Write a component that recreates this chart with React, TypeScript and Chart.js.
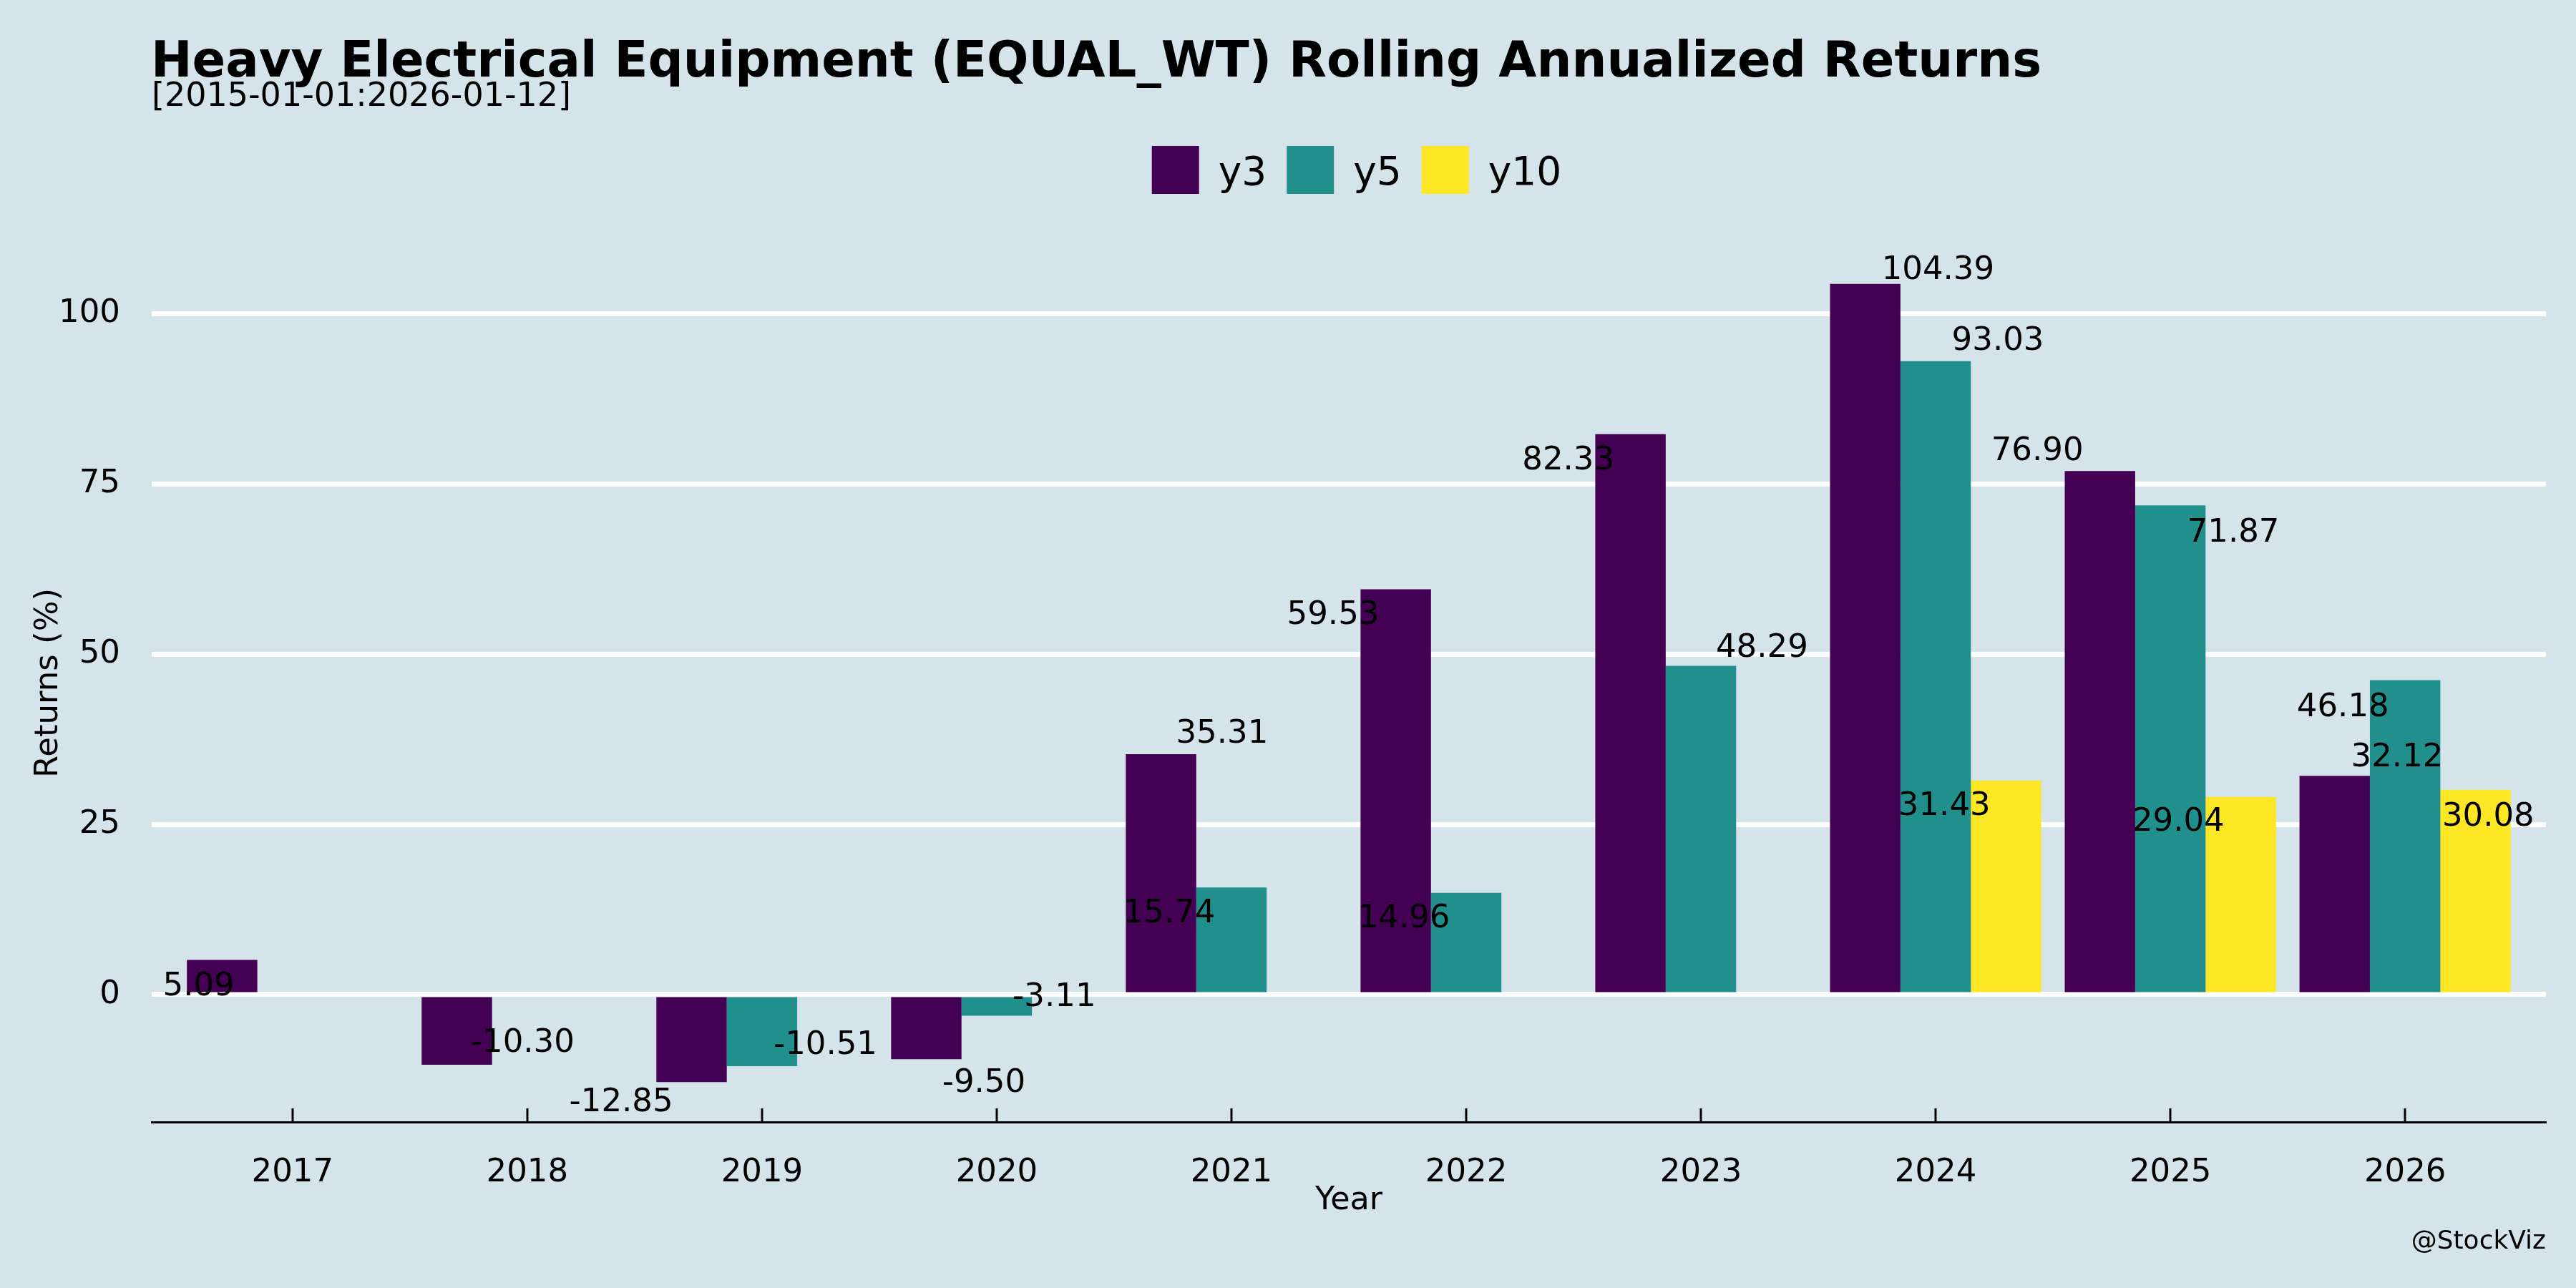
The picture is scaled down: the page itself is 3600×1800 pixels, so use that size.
import React, { useEffect, useRef } from 'react';
import { Chart, registerables } from 'chart.js';

Chart.register(...registerables);

// ---- data ----
const years = ['2017', '2018', '2019', '2020', '2021', '2022', '2023', '2024', '2025', '2026'];
const seriesNames = ['y3', 'y5', 'y10'];
const y3 = [5.09, -10.3, -12.85, -9.5, 35.31, 59.53, 82.33, 104.39, 76.9, 32.12];
const y5 = [null, null, -10.51, -3.11, 15.74, 14.96, 48.29, 93.03, 71.87, 46.18];
const y10 = [null, null, null, null, null, null, null, 31.43, 29.04, 30.08];
const yTicks = [0, 25, 50, 75, 100];

// label placement (text-repel style offsets): x in category units, y in px (up = +)
const labelNudgeX = [
  [-0.4, -0.02, -0.6, -0.055, -0.04, -0.567, -0.565, 0.01, -0.567, -0.034],
  [0, 0, 0.27, 0.245, -0.265, -0.265, 0.26, 0.265, 0.268, -0.265],
  [0, 0, 0, 0, 0, 0, 0, 0.037, 0.034, 0.354],
];
const labelNudgeY = [
  [-33, 34, -24, -29, 32, -32, -33, 23, 32, 30],
  [0, 0, 33, 30, -32, -32, 29, 32, -34, -34],
  [0, 0, 0, 0, 0, 0, 0, -32, -31, -34],
];

const TITLE = 'Heavy Electrical Equipment (EQUAL_WT) Rolling Annualized Returns';
const SUBTITLE = '[2015-01-01:2026-01-12]';
const X_TITLE = 'Year';
const Y_TITLE = 'Returns (%)';
const WATERMARK = '@StockViz';

const BG = '#d5e4eb';
const COLORS = ['#440154', '#21908d', '#fde725'];
const FONT = '"DejaVu Sans", "Noto Sans", sans-serif';

export default function App() {
  const ref = useRef<HTMLCanvasElement | null>(null);

  useEffect(() => {
    document.body.style.margin = '0';
    document.body.style.background = BG;
    const canvas = ref.current;
    if (!canvas) return;

    const all = [...y3, ...y5, ...y10].filter((v) => v !== null) as number[];
    const dMin = Math.min(...all);
    const dMax = Math.max(...all);
    const span = dMax - dMin;
    const yMin = dMin - 0.05 * span;
    const yMax = dMax + 0.05 * span;

    const seriesData = [y3, y5, y10];

    const bgPlugin = {
      id: 'bg',
      beforeDraw(chart: any) {
        const c = chart.ctx;
        c.save();
        c.fillStyle = BG;
        c.fillRect(0, 0, chart.width, chart.height);
        c.restore();
      },
    };

    const decorPlugin = {
      id: 'decor',
      afterDraw(chart: any) {
        const c = chart.ctx as CanvasRenderingContext2D;
        const xs = chart.scales.x;
        const ys = chart.scales.y;
        const area = chart.chartArea;
        c.save();

        // inward x ticks
        c.strokeStyle = '#000';
        c.lineWidth = 3;
        years.forEach((_, i) => {
          const px = Math.round(xs.getPixelForValue(i));
          c.beginPath();
          c.moveTo(px, area.bottom);
          c.lineTo(px, area.bottom - 19);
          c.stroke();
        });

        // value labels
        c.fillStyle = '#000';
        c.font = `45px ${FONT}`;
        c.textAlign = 'center';
        c.textBaseline = 'alphabetic';
        seriesData.forEach((arr, si) => {
          arr.forEach((v, i) => {
            if (v === null) return;
            const px = xs.getPixelForValue(i + labelNudgeX[si][i]);
            const py = ys.getPixelForValue(v) - labelNudgeY[si][i];
            c.fillText((v as number).toFixed(2), px, py + 0.3645 * 45);
          });
        });

        // title & subtitle
        c.textAlign = 'left';
        c.font = `bold 68.8px ${FONT}`;
        c.fillText(TITLE, 211, 107);
        c.font = `46px ${FONT}`;
        c.fillText(SUBTITLE, 212, 148);

        // legend
        c.font = `55px ${FONT}`;
        const box = 66;
        const gapText = 27;
        const gapItem = 28;
        const widths = chart.data.datasets.map((d: any) => c.measureText(d.label).width);
        let total = 0;
        widths.forEach((w: number, i: number) => {
          total += box + gapText + w + (i < widths.length - 1 ? gapItem : 0);
        });
        let lx = (area.left + area.right) / 2 + 11 - total / 2;
        chart.data.datasets.forEach((d: any, i: number) => {
          c.fillStyle = d.backgroundColor;
          c.fillRect(lx, 204, box, 67);
          c.fillStyle = '#000';
          c.fillText(d.label, lx + box + gapText, 258);
          lx += box + gapText + widths[i] + gapItem;
        });

        // axis titles
        c.font = `44.5px ${FONT}`;
        c.textAlign = 'center';
        c.fillText(X_TITLE, (area.left + area.right) / 2, 1690);
        c.font = `45px ${FONT}`;
        c.save();
        c.translate(80, (area.top + area.bottom) / 2);
        c.rotate(-Math.PI / 2);
        c.fillText(Y_TITLE, 0, 0);
        c.restore();

        // watermark
        c.font = `36px ${FONT}`;
        c.textAlign = 'right';
        c.fillText(WATERMARK, area.right, 1745);

        c.restore();
      },
    };

    const chart = new Chart(canvas, {
      type: 'bar',
      data: {
        datasets: seriesNames.map((name, si) => ({
          label: name,
          data: seriesData[si].map((v, i) => ({ x: i, y: v })),
          backgroundColor: COLORS[si],
          borderWidth: 0,
        })),
      } as any,
      options: {
        animation: false,
        responsive: false,
        devicePixelRatio: 1,
        layout: { padding: { top: 341, right: 42, left: 0, bottom: 0 } },
        datasets: { bar: { categoryPercentage: 0.9, barPercentage: 1.0 } },
        plugins: {
          legend: { display: false },
          tooltip: { enabled: false },
          title: { display: false },
        },
        scales: {
          x: {
            type: 'linear',
            min: -0.6,
            max: 9.6,
            offset: false,
            grid: { display: false, drawTicks: false },
            border: { display: true, color: '#000', width: 3 },
            ticks: {
              font: { family: FONT, size: 45 },
              color: '#000',
              padding: 44,
              maxRotation: 0,
              autoSkip: false,
              callback: (v: any) => years[v] ?? '',
            },
            afterBuildTicks: (s: any) => {
              s.ticks = years.map((_, i) => ({ value: i }));
            },
            afterFit: (s: any) => {
              s.height = 232;
            },
          },
          y: {
            min: yMin,
            max: yMax,
            grid: { color: '#ffffff', lineWidth: 7, drawTicks: false },
            border: { display: false },
            ticks: {
              font: { family: FONT, size: 45 },
              color: '#000',
              padding: 44,
            },
            afterBuildTicks: (s: any) => {
              s.ticks = yTicks.map((v) => ({ value: v }));
            },
            afterFit: (s: any) => {
              s.width = 212;
            },
          },
        },
      } as any,
      plugins: [bgPlugin, decorPlugin],
    });

    return () => chart.destroy();
  }, []);

  return (
    <div style={{ position: 'absolute', left: 0, top: 0, width: 3600, height: 1800 }}>
      <canvas ref={ref} width={3600} height={1800} style={{ display: 'block', width: 3600, height: 1800 }} />
    </div>
  );
}
